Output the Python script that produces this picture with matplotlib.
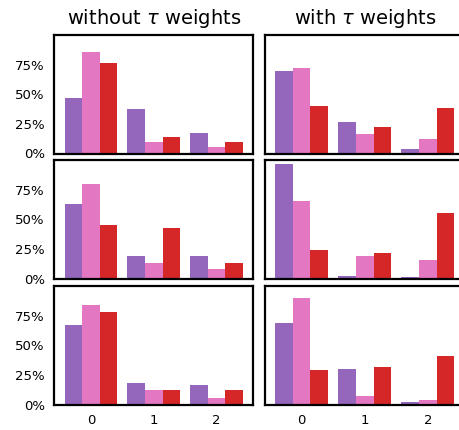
import numpy as np
import matplotlib
matplotlib.use("Agg")
import matplotlib.pyplot as plt
from matplotlib.ticker import PercentFormatter

groups = [0, 1, 2]
colors = ["#9467bd", "#e377c2", "#d62728"]
titles = [r"without $\tau$ weights", r"with $\tau$ weights"]

# share of each class per group, one list per series (purple, pink, red)
without_tau = [
    [[0.47, 0.375, 0.172], [0.856, 0.096, 0.054], [0.763, 0.138, 0.096]],
    [[0.628, 0.189, 0.189], [0.797, 0.130, 0.079], [0.451, 0.425, 0.130]],
    [[0.669, 0.178, 0.161], [0.839, 0.119, 0.051], [0.780, 0.119, 0.119]],
]
with_tau = [
    [[0.695, 0.263, 0.042], [0.723, 0.161, 0.119], [0.398, 0.220, 0.381]],
    [[0.966, 0.025, 0.010], [0.653, 0.186, 0.153], [0.237, 0.212, 0.551]],
    [[0.686, 0.297, 0.025], [0.898, 0.068, 0.042], [0.288, 0.314, 0.407]],
]

fig = plt.figure(figsize=(4.6, 4.3), dpi=100)
W, H = 460, 430
left_x = [54.5, 265]
ax_w = [198.5, 199.5]
row_top = [35, 160, 286]
ax_h = 118.5

width = 0.28
x = np.arange(len(groups))
for r in range(3):
    for c, data in enumerate([without_tau, with_tau]):
        ax = fig.add_axes([left_x[c] / W, 1 - (row_top[r] + ax_h) / H,
                           ax_w[c] / W, ax_h / H])
        for k, vals in enumerate(data[r]):
            ax.bar(x + (k - 1) * width, vals, width, color=colors[k], linewidth=0)
        ax.set_xlim(-0.58, 2.58)
        ax.set_ylim(0, 1.0)
        ax.set_yticks([0, 0.25, 0.5, 0.75])
        ax.yaxis.set_major_formatter(PercentFormatter(1.0, decimals=0))
        ax.set_xticks(x)
        ax.set_xticklabels([str(g) for g in groups])
        ax.tick_params(length=0, pad=7, labelsize=9.5)
        for s in ax.spines.values():
            s.set_linewidth(1.6)
            s.set_color("black")
        if c == 1:
            ax.tick_params(labelleft=False)
        if r < 2:
            ax.tick_params(labelbottom=False)
        if r == 0:
            ax.set_title(titles[c], fontsize=14, pad=8)

fig.savefig("out.png", dpi=100)
